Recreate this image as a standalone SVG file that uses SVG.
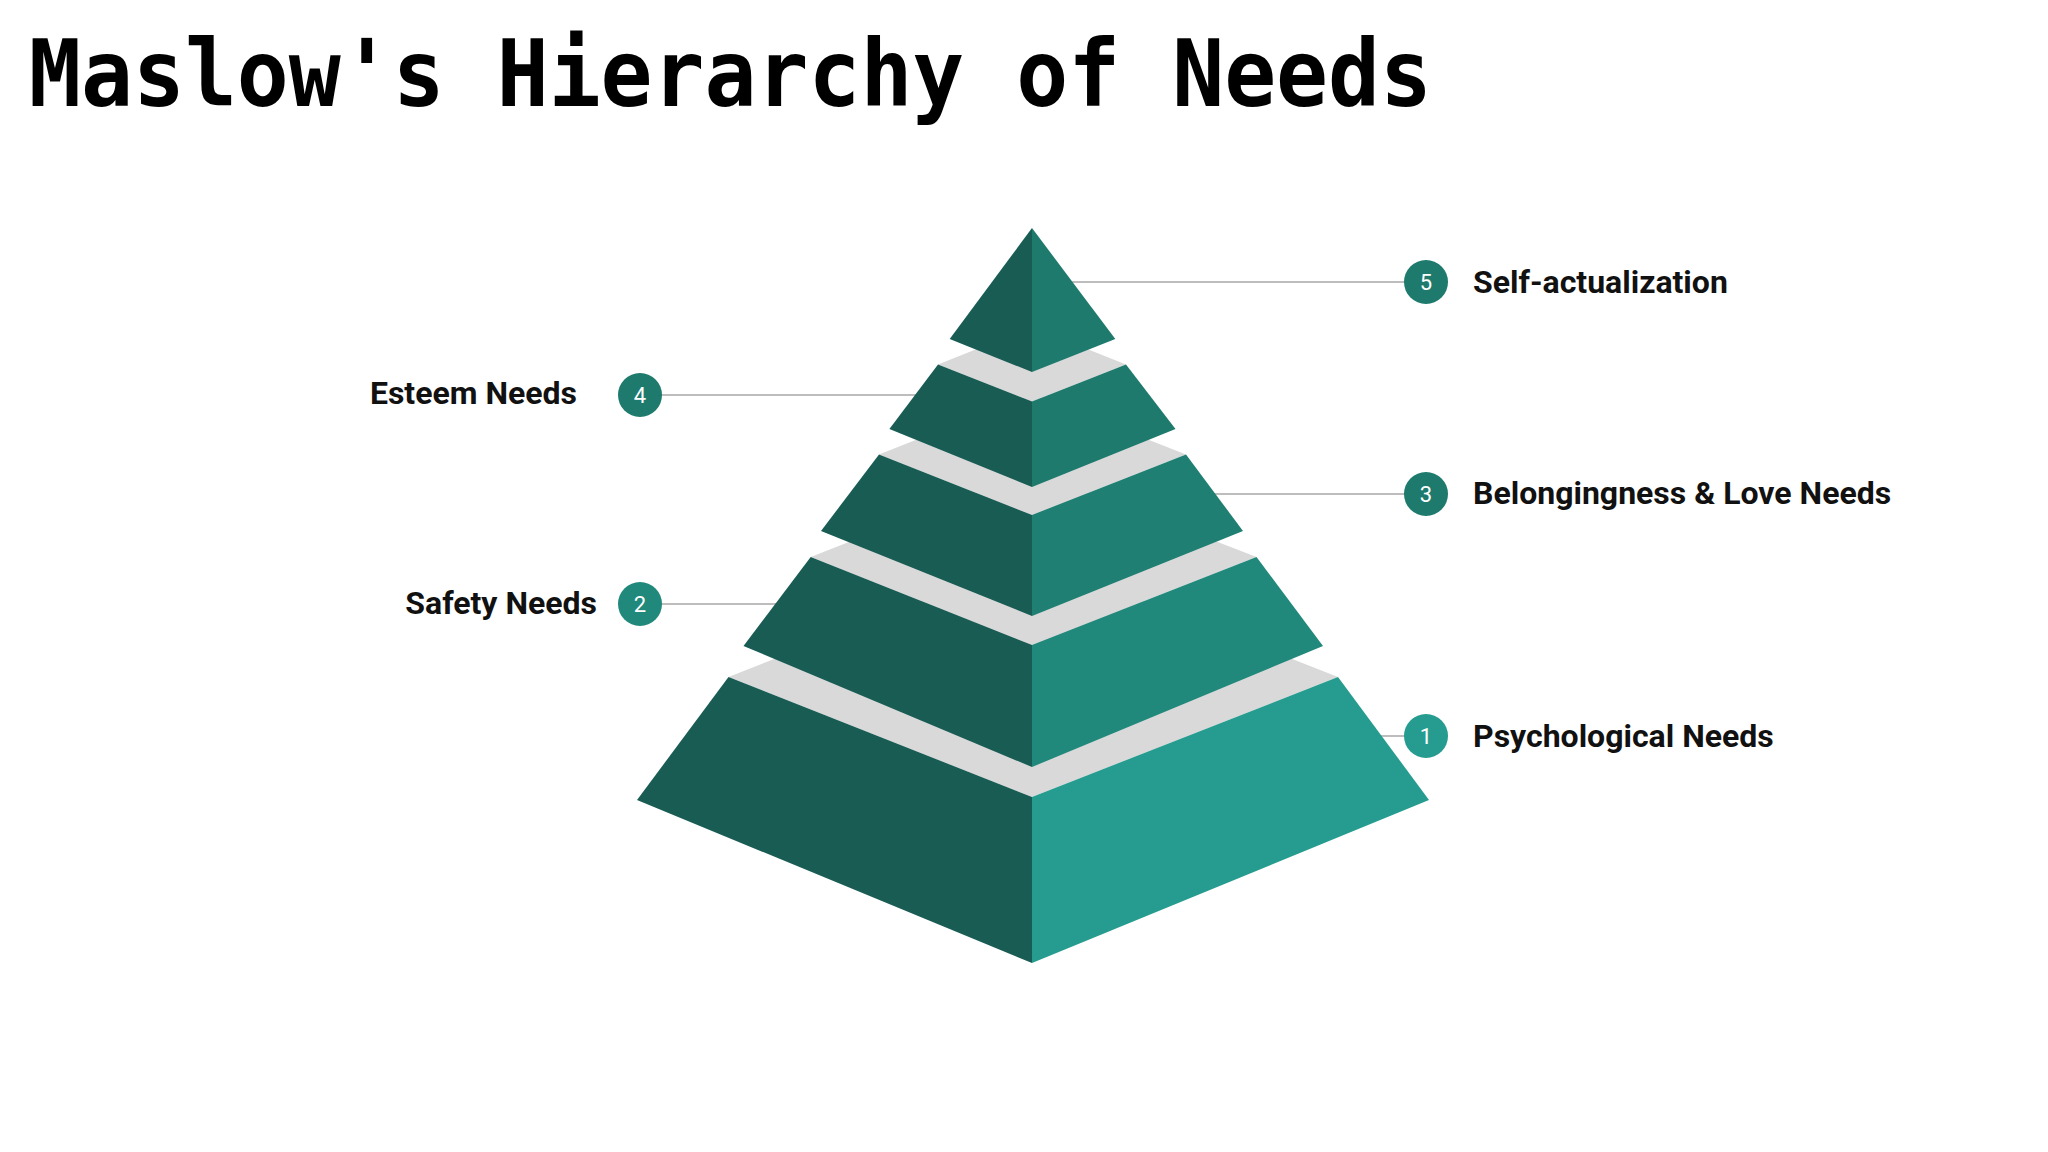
<svg xmlns="http://www.w3.org/2000/svg" width="2048" height="1152" viewBox="0 0 2048 1152">
<style>
.l{fill:#185C54}.g{fill:#D9D9D9}
.c{fill:#1E7A6D}
.n{font-family:Roboto,"Liberation Sans",sans-serif;font-size:22px;fill:#fff;text-anchor:middle}
.t{font-family:Roboto,"Liberation Sans",sans-serif;font-size:32px;font-weight:bold;fill:#111}
.k{stroke:#BDBDBD;stroke-width:2;fill:none}
</style>
<rect width="2048" height="1152" fill="#fff"/>
<text x="29" y="106" font-family="'DejaVu Sans Mono','Liberation Mono',monospace" font-weight="bold" font-size="92" textLength="1403" lengthAdjust="spacingAndGlyphs" fill="#000">Maslow's Hierarchy of Needs</text>
<g id="connectors">
<line class="k" x1="1050" y1="282" x2="1426" y2="282"/>
<line class="k" x1="640" y1="395" x2="930" y2="395"/>
<line class="k" x1="1190" y1="494" x2="1426" y2="494"/>
<line class="k" x1="640" y1="604" x2="790" y2="604"/>
<line class="k" x1="1360" y1="736" x2="1426" y2="736"/>
</g>
<g id="tier1">
<polygon class="g" points="728.5,677 1032,557 1338,677 1032,797"/>
<polygon class="l" points="728.5,677 1032,797 1032,963 637,800"/>
<polygon fill="#259C8F" points="1338,677 1032,797 1032,963 1429,800"/>
</g>
<g id="tier2">
<polygon class="g" points="810.7,557 1032,470 1256.5,557 1032,645"/>
<polygon class="l" points="810.7,557 1032,645 1032,767 743.5,646"/>
<polygon fill="#20897B" points="1256.5,557 1032,645 1032,767 1323,646"/>
</g>
<g id="tier3">
<polygon class="g" points="879,454.5 1032,394 1186,454.5 1032,515"/>
<polygon class="l" points="879,454.5 1032,515 1032,616 821,531"/>
<polygon fill="#1E7F72" points="1186,454.5 1032,515 1032,616 1243,531"/>
</g>
<g id="tier4">
<polygon class="g" points="938,364.4 1032,327 1126,364.4 1032,401.5"/>
<polygon class="l" points="938,364.4 1032,401.5 1032,487 889.4,429"/>
<polygon class="c" points="1126,364.4 1032,401.5 1032,487 1175.5,429"/>
</g>
<g id="tier5">
<polygon class="l" points="1032,228 1032,372 949.7,339"/>
<polygon class="c" points="1032,228 1032,372 1115.3,339"/>
</g>
<g id="label5"><circle cx="1426" cy="282" r="22" class="c"/><text class="n" x="1426" y="290">5</text><text class="t" x="1473" y="293">Self-actualization</text></g>
<g id="label4"><circle cx="640" cy="395" r="22" class="c"/><text class="n" x="640" y="403">4</text><text class="t" x="577" y="404" text-anchor="end">Esteem Needs</text></g>
<g id="label3"><circle cx="1426" cy="494" r="22" class="c"/><text class="n" x="1426" y="502">3</text><text class="t" x="1473" y="504">Belongingness &amp; Love Needs</text></g>
<g id="label2"><circle cx="640" cy="604" r="22" fill="#20897B"/><text class="n" x="640" y="612">2</text><text class="t" x="597" y="614" text-anchor="end">Safety Needs</text></g>
<g id="label1"><circle cx="1426" cy="736" r="22" fill="#259C8F"/><text class="n" x="1426" y="744">1</text><text class="t" x="1473" y="747">Psychological Needs</text></g>
</svg>
